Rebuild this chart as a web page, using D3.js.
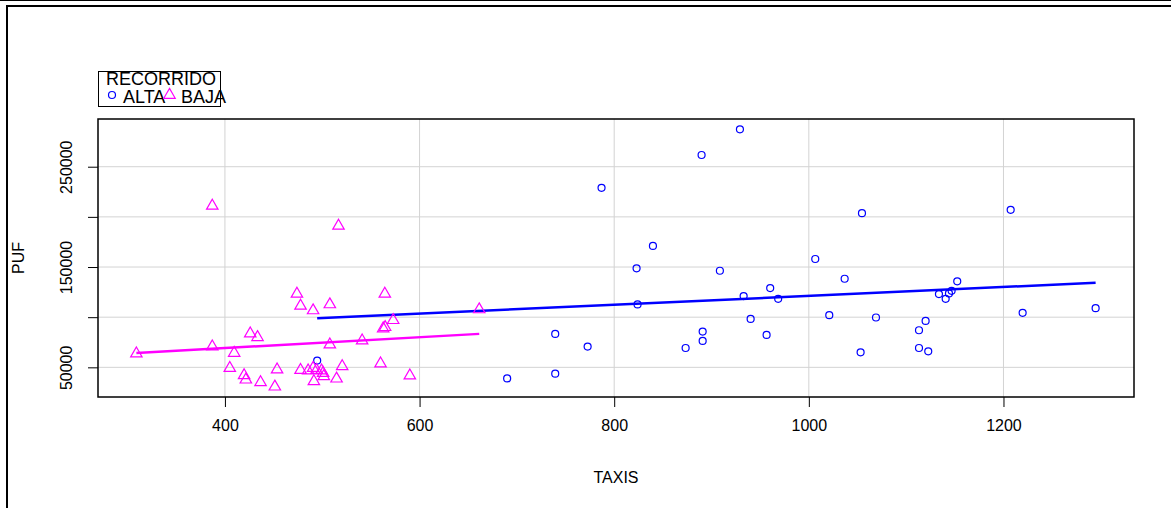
<!DOCTYPE html>
<html>
<head>
<meta charset="utf-8">
<script src="https://cdn.jsdelivr.net/npm/d3@7"></script>
<style>
  body { margin: 0; background: #fff; }
  svg text { font-family: "Liberation Sans", Arial, sans-serif; fill: #000; }
</style>
</head>
<body>
<svg id="chart" width="1171" height="508"></svg>
<script>
// RECORRIDO = ALTA (circles)
var altaTaxis = [494.8, 690, 739.4, 739.4, 772.7, 787, 823, 824, 839.8, 873.4,
  889.8, 890.9, 890.9, 908.6, 929.2, 933, 940.2, 956.6, 960.3, 968.5,
  1006.6, 1021, 1036.8, 1054.6, 1053.2, 1069, 1113.2, 1120, 1113.2, 1122.7,
  1133.7, 1140.6, 1144, 1146.7, 1152.5, 1207.4, 1219.7, 1294.7];
var altaPuf = [56700, 39000, 43700, 83300, 70700, 229000, 148700, 112700, 171000, 69300,
  261700, 85700, 76300, 146300, 287300, 121000, 98300, 82300, 129000, 118300,
  158000, 102000, 138300, 203700, 65000, 99700, 87000, 96300, 69300, 66000,
  123000, 118300, 123700, 126300, 135700, 207000, 104300, 109000];

// RECORRIDO = BAJA (triangles)
var bajaTaxis = [309, 387, 387, 409.5, 426, 433.5, 405, 419.7, 421.5, 436.6,
  451.3, 453.6, 474, 477.7, 490.6, 507.8, 564.3, 572.9, 562.6, 564.6,
  541, 507.8, 477.7, 485.5, 490.6, 494.1, 499.3, 500.9, 501.6, 491.4,
  514.7, 520.5, 559.9, 590, 516.7, 661.3];
var bajaPuf = [63700, 211000, 70700, 64300, 83700, 80000, 49300, 42000, 37700, 35000,
  30700, 47700, 123300, 111300, 106700, 112700, 123300, 97000, 88700, 90000,
  76700, 72700, 47300, 46700, 49300, 47300, 46700, 44300, 41000, 36000,
  38700, 51000, 53700, 41700, 191000, 107700];

var xTicks = [400, 600, 800, 1000, 1200];
var yTicks = [50000, 100000, 150000, 200000, 250000];
// R drops the labels that would overlap
var yTickLabels = ['50000', '', '150000', '', '250000'];
var groupNames = ['ALTA', 'BAJA'];
var groupColors = ['#0000ff', '#ff00ff'];

var svg = d3.select('#chart');
var plot = { left: 98, right: 1134, top: 119, bottom: 397 };

// R style: range of data + 4% each side
function padded(vals) {
  var ext = d3.extent(vals), r = ext[1] - ext[0];
  return [ext[0] - 0.04 * r, ext[1] + 0.04 * r];
}

var allX = altaTaxis.concat(bajaTaxis);
var allY = altaPuf.concat(bajaPuf);
var x = d3.scaleLinear().domain(padded(allX)).range([plot.left, plot.right]);
var y = d3.scaleLinear().domain(padded(allY)).range([plot.bottom, plot.top]);

// device frame
svg.append('line').attr('x1', 0).attr('x2', 1171).attr('y1', 0.5).attr('y2', 0.5)
  .attr('stroke', '#000').attr('stroke-width', 1);
svg.append('rect').attr('x', 7).attr('y', 6).attr('width', 1200).attr('height', 600)
  .attr('fill', 'none').attr('stroke', '#000').attr('stroke-width', 2);

// grid
var grid = svg.append('g').attr('stroke', '#d3d3d3').attr('stroke-width', 1);
grid.selectAll('line.gx').data(xTicks).enter().append('line')
  .attr('x1', function (d) { return x(d); }).attr('x2', function (d) { return x(d); })
  .attr('y1', plot.top).attr('y2', plot.bottom);
grid.selectAll('line.gy').data(yTicks).enter().append('line')
  .attr('y1', function (d) { return y(d); }).attr('y2', function (d) { return y(d); })
  .attr('x1', plot.left).attr('x2', plot.right);

// axes
var xAxis = d3.axisBottom(x).tickValues(xTicks).tickSize(10).tickPadding(10)
  .tickFormat(d3.format('d'));
var gx = svg.append('g').attr('transform', 'translate(0,' + plot.bottom + ')').call(xAxis);
gx.select('.domain').remove();
gx.selectAll('line').attr('stroke', '#000');
gx.selectAll('text').attr('font-size', 16).attr('dy', '0.9em');

var yAxis = d3.axisLeft(y).tickValues(yTicks).tickSize(10)
  .tickFormat(function (d, i) { return yTickLabels[i]; });
var gy = svg.append('g').attr('transform', 'translate(' + plot.left + ',0)').call(yAxis);
gy.select('.domain').remove();
gy.selectAll('line').attr('stroke', '#000');
gy.selectAll('text')
  .attr('font-size', 16)
  .attr('text-anchor', 'middle')
  .attr('x', 0).attr('dy', 0)
  .attr('dominant-baseline', 'central')
  .attr('transform', 'translate(-32,0) rotate(-90)');

// regression lines
function fit(xs, ys) {
  var mx = d3.mean(xs), my = d3.mean(ys), sxy = 0, sxx = 0;
  xs.forEach(function (v, i) { sxy += (v - mx) * (ys[i] - my); sxx += (v - mx) * (v - mx); });
  var b = sxy / sxx;
  return { a: my - b * mx, b: b, x0: d3.min(xs), x1: d3.max(xs) };
}
[fit(altaTaxis, altaPuf), fit(bajaTaxis, bajaPuf)].forEach(function (f, i) {
  svg.append('line')
    .attr('x1', x(f.x0)).attr('y1', y(f.a + f.b * f.x0))
    .attr('x2', x(f.x1)).attr('y2', y(f.a + f.b * f.x1))
    .attr('stroke', groupColors[i]).attr('stroke-width', 2.5);
});

// markers
var triR = 6.6;
function triPath(cx, cy) {
  var h = triR * Math.sqrt(3) / 2;
  return 'M' + cx + ',' + (cy - triR) + 'L' + (cx + h) + ',' + (cy + triR / 2) +
    'L' + (cx - h) + ',' + (cy + triR / 2) + 'Z';
}
svg.append('g').selectAll('circle').data(d3.range(altaTaxis.length)).enter().append('circle')
  .attr('cx', function (i) { return x(altaTaxis[i]); })
  .attr('cy', function (i) { return y(altaPuf[i]); })
  .attr('r', 3.5).attr('fill', 'none').attr('stroke', groupColors[0]).attr('stroke-width', 1.2);
svg.append('g').selectAll('path').data(d3.range(bajaTaxis.length)).enter().append('path')
  .attr('d', function (i) { return triPath(x(bajaTaxis[i]), y(bajaPuf[i])); })
  .attr('fill', 'none').attr('stroke', groupColors[1]).attr('stroke-width', 1.2);

// plot box
svg.append('rect').attr('x', plot.left).attr('y', plot.top)
  .attr('width', plot.right - plot.left).attr('height', plot.bottom - plot.top)
  .attr('fill', 'none').attr('stroke', '#000').attr('stroke-width', 1.5);

// axis titles
svg.append('text').attr('x', (plot.left + plot.right) / 2).attr('y', 483)
  .attr('text-anchor', 'middle').attr('font-size', 16).text('TAXIS');
svg.append('text').attr('transform', 'translate(24,' + (plot.top + plot.bottom) / 2 + ') rotate(-90)')
  .attr('text-anchor', 'middle').attr('font-size', 16).text('PUF');

// legend
var leg = svg.append('g');
leg.append('rect').attr('x', 98.5).attr('y', 71.5).attr('width', 122).attr('height', 35)
  .attr('fill', 'none').attr('stroke', '#000').attr('stroke-width', 1);
leg.append('text').attr('x', 106).attr('y', 85).attr('font-size', 18).text('RECORRIDO');
leg.append('circle').attr('cx', 112).attr('cy', 95).attr('r', 3.5)
  .attr('fill', 'none').attr('stroke', groupColors[0]).attr('stroke-width', 1.2);
leg.append('text').attr('x', 123).attr('y', 103).attr('font-size', 18).text(groupNames[0]);
leg.append('path').attr('d', triPath(169.5, 95))
  .attr('fill', 'none').attr('stroke', groupColors[1]).attr('stroke-width', 1.2);
leg.append('text').attr('x', 181).attr('y', 103).attr('font-size', 18).text(groupNames[1]);
</script>
</body>
</html>
